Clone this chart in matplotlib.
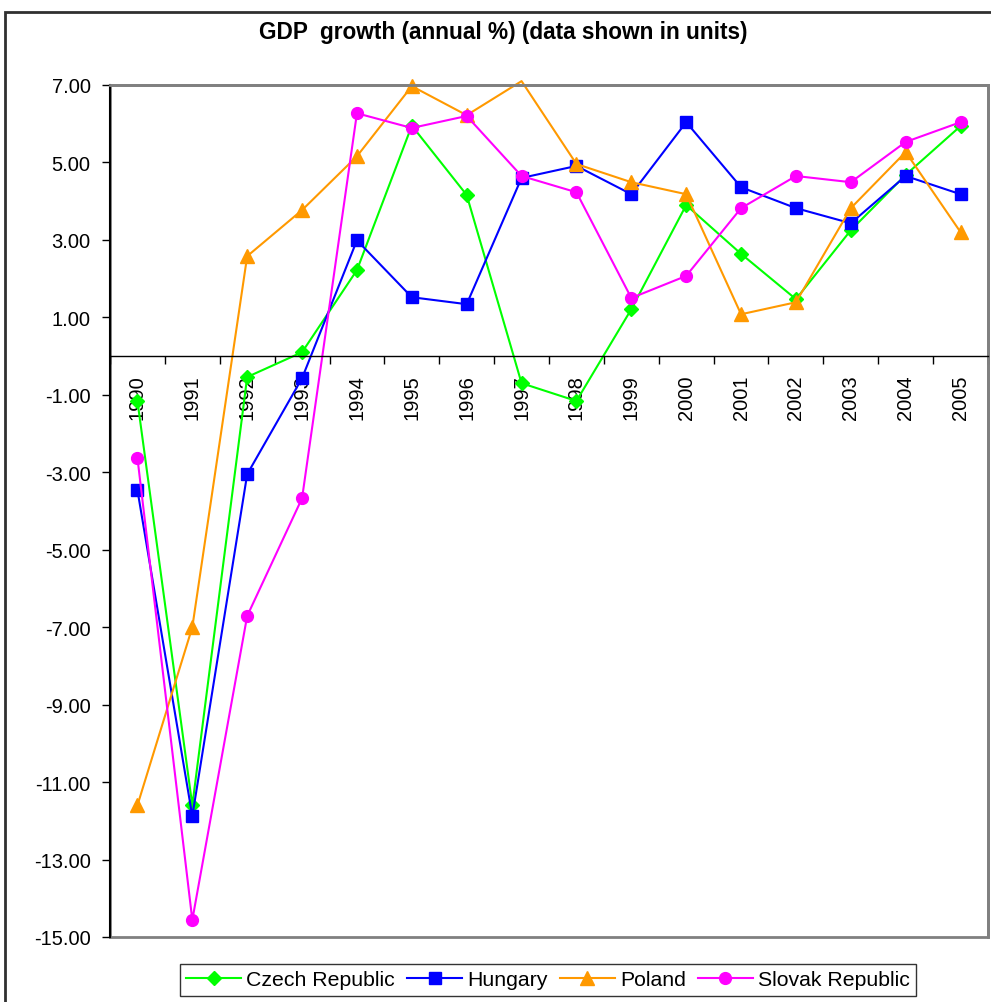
import matplotlib
matplotlib.use("Agg")
import matplotlib.pyplot as plt
from matplotlib.patches import Rectangle
import numpy as np

plt.rcParams['font.family'] = ['Liberation Sans', 'DejaVu Sans']

years = [str(y) for y in range(1990, 2006)]
czech = [-1.16, -11.6, -0.54, 0.1, 2.22, 5.95, 4.16, -0.7, -1.16, 1.21, 3.9, 2.64, 1.47, 3.25, 4.68, 5.94]
hungary = [-3.46, -11.88, -3.05, -0.57, 2.99, 1.52, 1.34, 4.6, 4.91, 4.18, 6.04, 4.36, 3.82, 3.43, 4.65, 4.18]
poland = [-11.6, -7.0, 2.58, 3.77, 5.16, 6.97, 6.22, 7.1, 4.96, 4.49, 4.18, 1.08, 1.39, 3.82, 5.27, 3.2]
slovak = [-2.63, -14.56, -6.71, -3.67, 6.27, 5.89, 6.2, 4.65, 4.23, 1.5, 2.07, 3.82, 4.65, 4.49, 5.53, 6.04]
yticks = [7, 5, 3, 1, -1, -3, -5, -7, -9, -11, -13, -15]

W, H = 991, 1003
fig = plt.figure(figsize=(W / 100, H / 100), dpi=100)
ax = fig.add_axes([110 / W, 1 - 938 / H, (988 - 110) / W, (938 - 86) / H])

# spines first (set_position resets ticks)
ax.spines['bottom'].set_position(('data', 0))
ax.spines['bottom'].set_color('black')
ax.spines['bottom'].set_linewidth(1)
ax.spines['left'].set_color('black')
ax.spines['left'].set_linewidth(1.5)
for s in ['top', 'right']:
    ax.spines[s].set_color('#808080')
    ax.spines[s].set_linewidth(2)
ax.add_patch(Rectangle((0, 0), 1, 1, transform=ax.transAxes, fill=False,
                       edgecolor='#808080', lw=2, clip_on=False, zorder=0))

x = np.arange(len(years))
lw = 1.5
ax.plot(x, czech, color='#00FF00', lw=lw, marker='D', ms=7, label='Czech Republic', clip_on=False)
ax.plot(x, hungary, color='#0000FF', lw=lw, marker='s', ms=8.5, label='Hungary', clip_on=False)
pm = [i for i in range(len(poland)) if poland[i] <= 7.0]
ax.plot(x, poland, color='#FF9900', lw=lw, marker='^', ms=9.5, markevery=pm, label='Poland', clip_on=False)
ax.plot(x, slovak, color='#FF00FF', lw=lw, marker='o', ms=8.5, label='Slovak Republic', clip_on=False)

ax.set_xlim(-0.5, len(years) - 0.5)
ax.set_ylim(-15, 7)
ax.set_yticks(yticks)
ax.set_yticklabels([f"{v:.2f}" for v in yticks], fontsize=14.5)

ax.set_xticks(x)
ax.set_xticklabels(years, rotation=90, fontsize=14.5, va='top', ha='center')
ax.set_xticks(np.arange(len(years) + 1) - 0.5, minor=True)
ax.tick_params(axis='x', which='major', length=0, pad=13)
ax.tick_params(axis='x', which='minor', length=6, direction='out', color='black', width=1)
ax.tick_params(axis='y', length=6, direction='out', width=1, pad=8)

fig.text(503 / W, 1 - 33 / H, 'GDP  growth (annual %) (data shown in units)',
         ha='center', va='center', fontsize=16.3, fontweight='bold')

# outer chart border
fig.add_artist(Rectangle((5 / W, -0.05), 1.1, 1 - 13 / H + 0.05, transform=fig.transFigure,
                         fill=False, edgecolor='#303030', lw=2))

leg = fig.legend(loc='upper center', bbox_to_anchor=(548 / W, 1 - 965 / H), ncol=4,
                 fontsize=15.3, frameon=True, fancybox=False, edgecolor='black',
                 handlelength=2.6, handletextpad=0.25, columnspacing=0.55,
                 borderpad=0.3, borderaxespad=0)
leg.get_frame().set_linewidth(1)

fig.savefig('out.png', dpi=100)
